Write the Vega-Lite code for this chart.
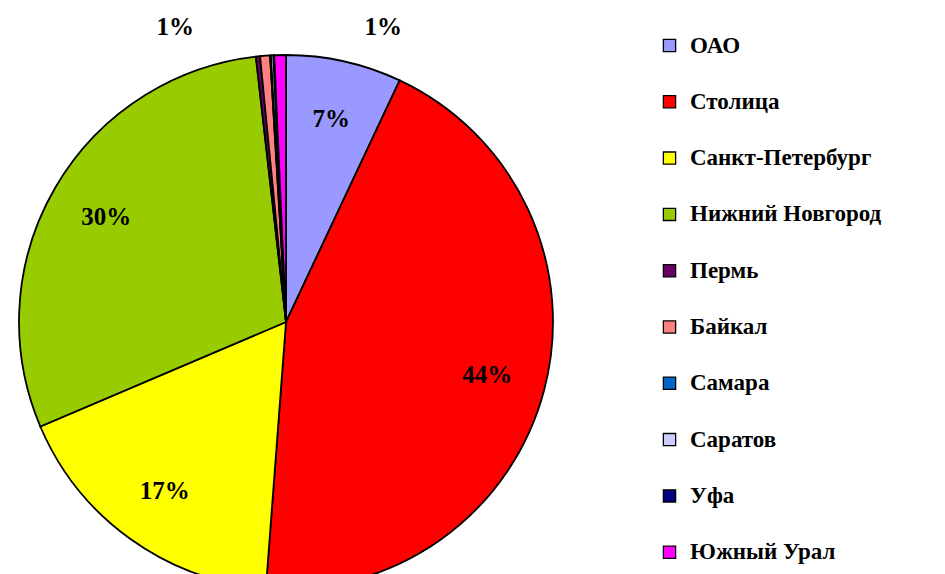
{
  "$schema": "https://vega.github.io/schema/vega-lite/v6.json",
  "autosize": {"type": "none"},
  "padding": {"left": 0, "top": 0, "right": 373, "bottom": 0},
  "width": 572,
  "height": 644,
  "background": "white",
  "view": {"stroke": null},
  "data": {"values": [
    {"cat": "ОАО", "value": 7.0, "k": 1, "pct": "7%"},
    {"cat": "Столица", "value": 44.2, "k": 2, "pct": "44%"},
    {"cat": "Санкт-Петербург", "value": 17.4, "k": 3, "pct": "17%"},
    {"cat": "Нижний Новгород", "value": 29.6, "k": 4, "pct": "30%"},
    {"cat": "Пермь", "value": 0.25, "k": 5, "pct": ""},
    {"cat": "Байкал", "value": 0.6, "k": 6, "pct": "1%"},
    {"cat": "Самара", "value": 0.05, "k": 7, "pct": ""},
    {"cat": "Саратов", "value": 0.15, "k": 8, "pct": ""},
    {"cat": "Уфа", "value": 0.05, "k": 9, "pct": ""},
    {"cat": "Южный Урал", "value": 0.7, "k": 10, "pct": "1%"}
  ]},
  "encoding": {
    "theta": {"field": "value", "type": "quantitative", "stack": true},
    "order": {"field": "k", "type": "quantitative"}
  },
  "layer": [
    {
      "mark": {"type": "arc", "outerRadius": 267, "stroke": "black", "strokeWidth": 1.8},
      "encoding": {
        "color": {
          "field": "cat",
          "type": "nominal",
          "scale": {
            "domain": ["ОАО", "Столица", "Санкт-Петербург", "Нижний Новгород", "Пермь", "Байкал", "Самара", "Саратов", "Уфа", "Южный Урал"],
            "range": ["#9999FF", "#FF0000", "#FFFF00", "#99CC00", "#660066", "#FF8080", "#0066CC", "#CCCCFF", "#000080", "#FF00FF"]
          },
          "legend": {
            "orient": "none",
            "legendX": 658,
            "legendY": 34,
            "title": null,
            "padding": 0,
            "symbolType": "square",
            "symbolSize": 150,
            "symbolStrokeColor": "black",
            "symbolStrokeWidth": 1.3,
            "symbolOpacity": 1,
            "labelFont": "Liberation Serif",
            "labelFontSize": 23,
            "labelFontWeight": "bold",
            "labelColor": "black",
            "labelOffset": 9,
            "labelLimit": 400,
            "rowPadding": 32.3
          }
        }
      }
    },
    {
      "mark": {"type": "text", "radius": 208, "font": "Liberation Serif", "fontWeight": "bold", "fontSize": 25, "color": "black"},
      "encoding": {
        "text": {"condition": {"test": "datum.k <= 4", "field": "pct", "type": "nominal"}, "value": ""}
      }
    },
    {
      "mark": {"type": "text", "radius": 315, "thetaOffset": -0.281, "font": "Liberation Serif", "fontWeight": "bold", "fontSize": 25, "color": "black"},
      "encoding": {
        "text": {"condition": {"test": "datum.cat === 'Байкал'", "field": "pct", "type": "nominal"}, "value": ""}
      }
    },
    {
      "mark": {"type": "text", "radius": 311, "thetaOffset": 0.34, "font": "Liberation Serif", "fontWeight": "bold", "fontSize": 25, "color": "black"},
      "encoding": {
        "text": {"condition": {"test": "datum.cat === 'Южный Урал'", "field": "pct", "type": "nominal"}, "value": ""}
      }
    }
  ]
}
